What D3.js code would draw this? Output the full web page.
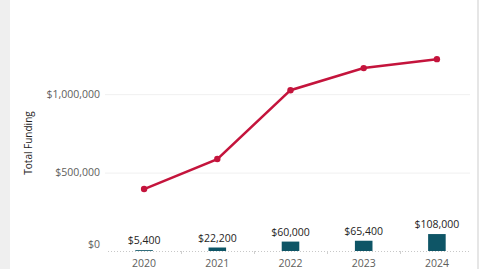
<!DOCTYPE html>
<html>
<head>
<meta charset="utf-8">
<script src="https://cdn.jsdelivr.net/npm/d3@7"></script>
<style>
  body { margin: 0; background: #fff; }
  svg { display: block; font-family: "Open Sans", "Noto Sans", sans-serif; }
</style>
</head>
<body>
<svg id="chart"></svg>
<script>
const width = 479;
const height = 269;

// Data
const years = ["2020", "2021", "2022", "2023", "2024"];
const totalFunding = [395000, 586000, 1025000, 1166000, 1223000];
const barFunding = [5400, 22200, 60000, 65400, 108000];
const yTicks = [0, 500000, 1000000];

const svg = d3.select("#chart").attr("width", width).attr("height", height);

// Grey panel edges
svg.append("rect").attr("x", 0).attr("y", 0).attr("width", 10).attr("height", height).attr("fill", "#efefef");
svg.append("rect").attr("x", 477).attr("y", 0).attr("width", 2).attr("height", height).attr("fill", "#e6e6e6");

const x = d3.scaleBand().domain(years).range([107.5, 473.5]);
const y = d3.scaleLinear().domain([0, 1600000]).range([251, 0]);

const fmt = (d) => "$" + d3.format(",")(d);

// Gridlines
svg.append("g")
  .selectAll("line")
  .data(yTicks.slice(1))
  .enter()
  .append("line")
  .attr("x1", 105)
  .attr("x2", 470)
  .attr("y1", (d) => y(d) + 0.5)
  .attr("y2", (d) => y(d) + 0.5)
  .attr("stroke", "#f0f0f0");

// Y axis labels
svg.append("g")
  .selectAll("text")
  .data(yTicks)
  .enter()
  .append("text")
  .attr("x", 100)
  .attr("y", (d) => (d === 0 ? y(d) - 7 : y(d)))
  .attr("dy", "0.35em")
  .attr("text-anchor", "end")
  .attr("font-size", 10.5)
  .attr("fill", "#605e5c")
  .text(fmt);

// Y axis title
svg.append("text")
  .attr("transform", "translate(32,143) rotate(-90)")
  .attr("text-anchor", "middle")
  .attr("font-size", 10)
  .attr("fill", "#252423")
  .text("Total Funding");

// Dotted baseline with category ticks
svg.append("line")
  .attr("x1", 108)
  .attr("x2", 470)
  .attr("y1", 251.5)
  .attr("y2", 251.5)
  .attr("stroke", "#c8c8c8")
  .attr("stroke-dasharray", "1,2");

svg.append("g")
  .selectAll("line")
  .data(years.slice(1))
  .enter()
  .append("line")
  .attr("x1", (d) => Math.round(x(d)) + 0.5)
  .attr("x2", (d) => Math.round(x(d)) + 0.5)
  .attr("y1", 251)
  .attr("y2", 254)
  .attr("stroke", "#d0d0d0");

// X axis labels
svg.append("g")
  .selectAll("text")
  .data(years)
  .enter()
  .append("text")
  .attr("x", (d) => x(d) + x.bandwidth() / 2)
  .attr("y", 267)
  .attr("text-anchor", "middle")
  .attr("font-size", 10.5)
  .attr("fill", "#605e5c")
  .text((d) => d);

// Bars
const barW = x.bandwidth() * 0.24;
svg.append("g")
  .selectAll("rect")
  .data(barFunding)
  .enter()
  .append("rect")
  .attr("x", (d, i) => x(years[i]) + x.bandwidth() / 2 - barW / 2)
  .attr("y", (d) => y(d))
  .attr("width", barW)
  .attr("height", (d) => y(0) - y(d))
  .attr("fill", "#0e5566");

// Bar labels
svg.append("g")
  .selectAll("text")
  .data(barFunding)
  .enter()
  .append("text")
  .attr("x", (d, i) => x(years[i]) + x.bandwidth() / 2)
  .attr("y", (d) => y(d) - 6)
  .attr("text-anchor", "middle")
  .attr("font-size", 10.5)
  .attr("fill", "#252423")
  .text(fmt);

// Line
const line = d3
  .line()
  .x((d, i) => x(years[i]) + x.bandwidth() / 2)
  .y((d) => y(d));

svg.append("path")
  .datum(totalFunding)
  .attr("d", line)
  .attr("fill", "none")
  .attr("stroke", "#c4143c")
  .attr("stroke-width", 2.5);

svg.append("g")
  .selectAll("circle")
  .data(totalFunding)
  .enter()
  .append("circle")
  .attr("cx", (d, i) => x(years[i]) + x.bandwidth() / 2)
  .attr("cy", (d) => y(d))
  .attr("r", 3.2)
  .attr("fill", "#c4143c");
</script>
</body>
</html>
